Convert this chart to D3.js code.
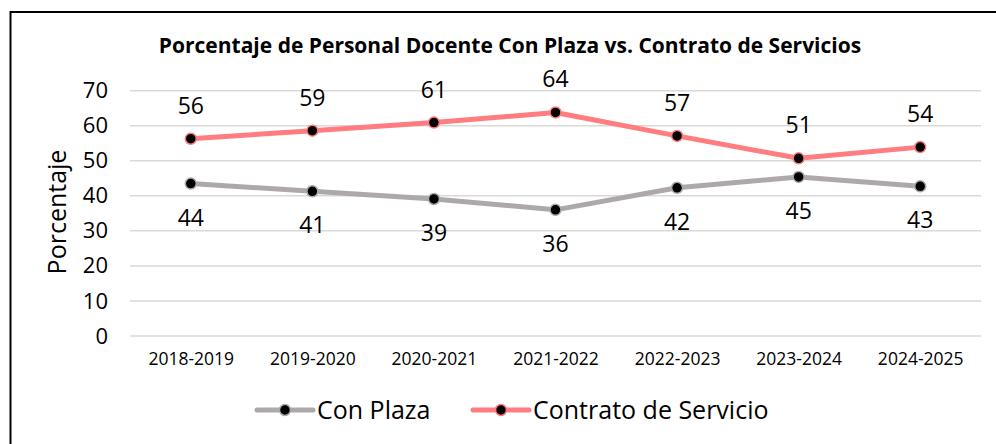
<!DOCTYPE html>
<html><head><meta charset="utf-8">
<script src="https://cdn.jsdelivr.net/npm/d3@7"></script>
<style>body{margin:0;background:#fff}svg{display:block}</style>
</head><body>
<script>
const categories = ["2018-2019","2019-2020","2020-2021","2021-2022","2022-2023","2023-2024","2024-2025"];
const conPlaza = [43.5, 41.3, 39.1, 36.0, 42.3, 45.4, 42.7];
const contrato = [56.3, 58.6, 60.9, 63.8, 57.1, 50.7, 53.9];
const yTicks = [0,10,20,30,40,50,60,70];
const seriesNames = ["Con Plaza", "Contrato de Servicio"];
const colors = ["#ADA9A9", "#FF7C80"];
const title = "Porcentaje de Personal Docente Con Plaza vs. Contrato de Servicios";
const yTitle = "Porcentaje";

const W = 996, H = 444;
const FONT = "'Open Sans', sans-serif";
const svg = d3.select("body").append("svg").attr("width", W).attr("height", H);
svg.append("rect").attr("x",10.5).attr("y",12).attr("width",1000).attr("height",500)
  .attr("fill","#fff").attr("stroke","#000").attr("stroke-width",2);

const x = d3.scalePoint().domain(categories).range([130, 981]).padding(0.5);
const y = d3.scaleLinear().domain([0,70]).range([336, 90.7]);

svg.append("text").attr("x", 510).attr("y", 53).attr("text-anchor","middle")
  .attr("font-family", FONT).attr("font-weight","bold").attr("font-size",21).text(title);

// grid
svg.append("g").selectAll("line").data(yTicks).join("line")
  .attr("x1",130).attr("x2",981).attr("y1",d=>y(d)).attr("y2",d=>y(d))
  .attr("stroke","#d9d9d9").attr("stroke-width",1.5);

const yAxis = svg.append("g").attr("transform","translate(130,0)")
  .call(d3.axisLeft(y).tickValues(yTicks).tickSize(0).tickPadding(22));
yAxis.select(".domain").remove();
yAxis.selectAll("text").attr("font-family",FONT).attr("font-size",22).attr("fill","#000");

const xAxis = svg.append("g").attr("transform","translate(0,336)")
  .call(d3.axisBottom(x).tickSize(0).tickPadding(17));
xAxis.select(".domain").remove();
xAxis.selectAll("text").attr("font-family",FONT).attr("font-size",17.5).attr("fill","#000");

svg.append("text").attr("transform","translate(66,212) rotate(-90)").attr("text-anchor","middle")
  .attr("font-family",FONT).attr("font-size",25).text(yTitle);

const data = [conPlaza, contrato];
const line = d3.line().x((d,i)=>x(categories[i])).y(d=>y(d));
data.forEach((s,k)=>{
  const g = svg.append("g");
  g.append("path").attr("d", line(s)).attr("fill","none").attr("stroke",colors[k])
    .attr("stroke-width",5).attr("stroke-linejoin","round");
  g.selectAll("circle").data(s).join("circle")
    .attr("cx",(d,i)=>x(categories[i])).attr("cy",d=>y(d)).attr("r",5.5)
    .attr("fill","#000").attr("stroke",colors[k]).attr("stroke-width",1.5);
  g.selectAll("text").data(s).join("text")
    .attr("x",(d,i)=>x(categories[i])).attr("y",d=> k===0 ? y(d)+34 : y(d)-33)
    .attr("dy","0.35em").attr("text-anchor","middle")
    .attr("font-family",FONT).attr("font-size",23).attr("fill","#000")
    .text(d=>d3.format(".0f")(d));
});

// legend
const legX = [257, 473];
seriesNames.forEach((n,k)=>{
  const g = svg.append("g").attr("transform",`translate(${legX[k]},410)`);
  g.append("line").attr("x1",0).attr("x2",56).attr("stroke",colors[k]).attr("stroke-width",5).attr("stroke-linecap","round");
  g.append("circle").attr("cx",28).attr("r",5.5).attr("fill","#000").attr("stroke",colors[k]).attr("stroke-width",1.5);
  g.append("text").attr("x",60).attr("dy","0.35em").attr("font-family",FONT).attr("font-size",25).text(n);
});
</script>
</body></html>
